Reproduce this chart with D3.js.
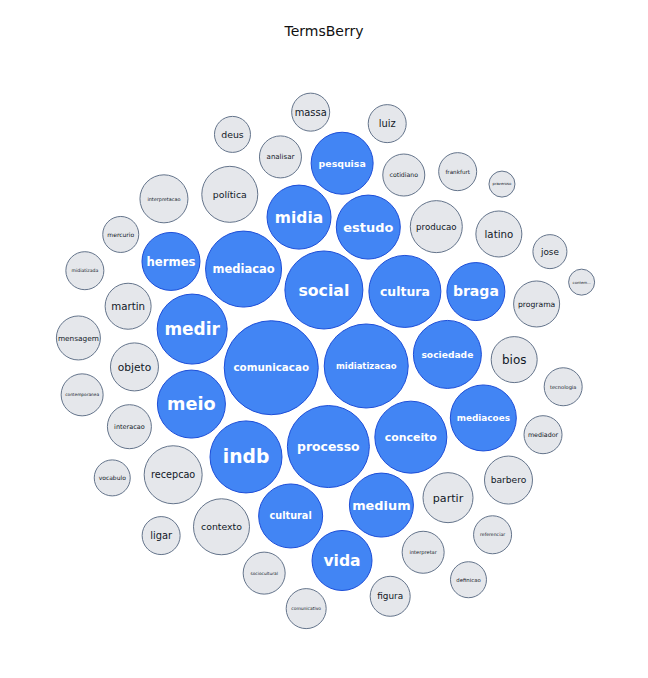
<!DOCTYPE html>
<html><head><meta charset="utf-8">
<script src="https://cdn.jsdelivr.net/npm/d3@7"></script>
<style>body{margin:0;background:#fff;font-family:"DejaVu Sans",sans-serif}</style>
</head><body><svg id="c" width="648" height="678"></svg>
<script>
const terms = ["comunicacao","midiatizacao","processo","social","mediacao","indb","cultura","conceito","medir","meio","sociedade","mediacoes","midia","cultural","estudo","medium","pesquisa","vida","hermes","braga",
"recepcao","politica","contexto","producao","partir","objeto","barbero","interpretacao","latino","bios","martin","programa","interacao","mensagem","analisar","cotidiano","interpretar","sociocultural","contemporanea","comunicativo","figura","massa","luiz","ligar","tecnologia","midiatizada","mediador","referenciar","frankfurt","deus","definicao","vocabulo","mercurio","jose","prazeroso","contem..."];
const labels = {"politica":"política"};
const radii = [47,42,41,39,38,36,36,36,35,34,34,33,32,32,32,32,31,30,29,29,
29,28,28,26,25,24,24,24,23,23,23,23,22,22,21,21,21,21,21,20,20,19,19,19,19,19,19,19,19,18,18,18,18,17,13,13];
const highlighted = 20;
const cx = 324, cy = 360;

const svg = d3.select("#c");
svg.append("text").attr("x",324).attr("y",36).attr("text-anchor","middle")
  .attr("font-size",14).attr("fill","#111").text("TermsBerry");

const data = terms.map((t,i)=>({name:t,r:radii[i],hi:i<highlighted}));
// seed positions with pack, then relax with a force simulation for spacing
const root = d3.hierarchy({children:data}).sum(d=>d.r? d.r*d.r:0).sort((a,b)=>b.value-a.value);
d3.pack().size([500,500]).padding(2)(root);
root.leaves().forEach(l=>{l.data.x=cx-250+l.x; l.data.y=cy-250+l.y;});
const sim = d3.forceSimulation(data)
  .force("x", d3.forceX(cx).strength(d=>d.hi?0.06:0.03))
  .force("y", d3.forceY(cy).strength(d=>d.hi?0.06:0.03))
  .force("collide", d3.forceCollide(d=>d.r+(d.hi?3:7)).strength(1).iterations(4))
  .stop();
for(let i=0;i<400;i++) sim.tick();

const nodes = svg.append("g").selectAll("g").data(data).join("g").attr("transform",d=>`translate(${d.x},${d.y})`);
nodes.append("circle").attr("r",d=>d.r)
  .attr("fill",d=>d.hi?"#4285f4":"#e5e7eb")
  .attr("stroke",d=>d.hi?"#1d4ed8":"#64748b").attr("stroke-width",1);
nodes.append("text").attr("text-anchor","middle").attr("dy","0.35em")
  .attr("fill",d=>d.hi?"#fff":"#111827")
  .attr("font-weight",d=>d.hi?"bold":"normal")
  .attr("font-size",d=>{const s=labels[d.name]||d.name;return Math.min(d.r*0.52,1.6*d.r/(s.length*(d.hi?0.66:0.6)));})
  .text(d=>labels[d.name]||d.name);
</script></body></html>
